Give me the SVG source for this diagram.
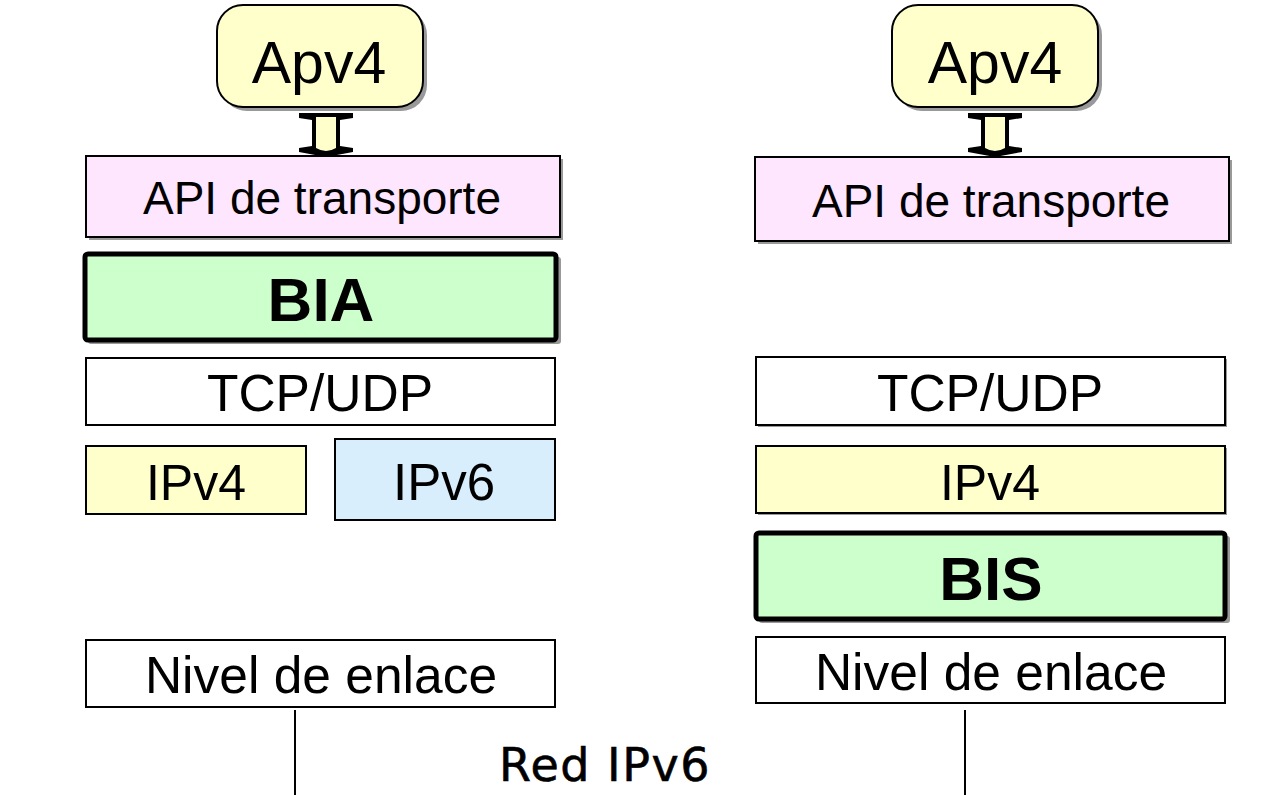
<svg xmlns="http://www.w3.org/2000/svg" width="1283" height="795" viewBox="0 0 1283 795">
<style>
.sh{fill:#999999;}
.box{stroke:#000;stroke-width:2;}
.thick{stroke:#000;stroke-width:5;fill:#CCFFCC;}
.t{font-family:"Liberation Sans",Arial,sans-serif;fill:#000;text-anchor:middle;}
.b{font-weight:bold;}
.app{fill:#FFFFCC;stroke:#000;stroke-width:2;}
.pink{fill:#FFE6FF;}
.yel{fill:#FFFFCC;}
.blue{fill:#D9EEFC;}
.white{fill:#FFFFFF;}
.wire{stroke:#000;stroke-width:2;fill:none;}
</style>
<defs>
<g id="arrow">
<path d="M-27,113 H27 V118 L14,120 V146 L27,148 V152 L0,157 L-27,152 V148 L-14,146 V120 L-27,118 Z" fill="#000"/>
<path d="M-10,117 H10 V148 Q0,154 -10,148 Z" fill="#FFFFCC"/>
</g>
</defs>
<rect width="1283" height="795" fill="#fff"/>

<g id="apv4-left">
<rect x="221" y="9" width="206" height="102" rx="26" class="sh"/>
<rect x="217" y="5" width="206" height="102" rx="26" class="app"/>
<text x="319" y="83" class="t" font-size="59">Apv4</text>
</g>
<g id="apv4-right">
<rect x="896" y="9" width="206" height="102" rx="26" class="sh"/>
<rect x="892" y="5" width="206" height="102" rx="26" class="app"/>
<text x="995" y="83" class="t" font-size="59">Apv4</text>
</g>

<g id="connectors">
<use href="#arrow" x="326" y="0"/>
<use href="#arrow" x="995" y="0"/>
<line x1="295" y1="710" x2="295" y2="795" class="wire"/>
<line x1="965" y1="710" x2="965" y2="795" class="wire"/>
</g>

<g id="api-left">
<rect x="89" y="159" width="474" height="81" class="sh"/>
<rect x="86" y="156" width="474" height="81" class="box pink"/>
<text x="322" y="214" class="t" font-size="46">API de transporte</text>
</g>
<g id="bia">
<rect x="88" y="257" width="473" height="87" rx="3" class="sh"/>
<rect x="85" y="254" width="471" height="86" rx="3" class="thick"/>
<text x="321" y="321" class="t b" font-size="62">BIA</text>
</g>
<g id="tcpudp-left">
<rect x="86" y="358" width="469" height="67" class="box white"/>
<text x="320" y="411" class="t" font-size="51.5">TCP/UDP</text>
</g>
<g id="ipv4-left">
<rect x="86" y="446" width="220" height="68" class="box yel"/>
<text x="196" y="500" class="t" font-size="50">IPv4</text>
</g>
<g id="ipv6-left">
<rect x="335" y="439" width="220" height="81" class="box blue"/>
<text x="444" y="500" class="t" font-size="51">IPv6</text>
</g>
<g id="nivel-left">
<rect x="86" y="640" width="469" height="67" class="box white"/>
<text x="321" y="693" class="t" font-size="51.5">Nivel de enlace</text>
</g>

<g id="api-right">
<rect x="758" y="160" width="474" height="84" class="sh"/>
<rect x="755" y="157" width="474" height="84" class="box pink"/>
<text x="991" y="217" class="t" font-size="46">API de transporte</text>
</g>
<g id="tcpudp-right">
<rect x="758" y="359" width="469" height="68" class="sh"/>
<rect x="756" y="357" width="469" height="68" class="box white"/>
<text x="990" y="411" class="t" font-size="51.5">TCP/UDP</text>
</g>
<g id="ipv4-right">
<rect x="758" y="448" width="469" height="67" class="sh"/>
<rect x="756" y="446" width="469" height="67" class="box yel"/>
<text x="990" y="500" class="t" font-size="50">IPv4</text>
</g>
<g id="bis">
<rect x="759" y="536" width="471" height="87" rx="3" class="sh"/>
<rect x="756" y="533" width="469" height="86" rx="3" class="thick"/>
<text x="991" y="600" class="t b" font-size="62">BIS</text>
</g>
<g id="nivel-right">
<rect x="756" y="637" width="469" height="66" class="box white"/>
<text x="991" y="690" class="t" font-size="51.5">Nivel de enlace</text>
</g>

<text id="red-ipv6" x="605" y="781" font-family="DejaVu Sans, sans-serif" font-size="46" stroke="#000" stroke-width="0.6" letter-spacing="1.5" text-anchor="middle">Red IPv6</text>
</svg>
